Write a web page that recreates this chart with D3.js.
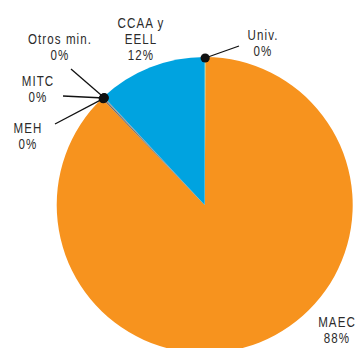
<!DOCTYPE html>
<html>
<head>
<meta charset="utf-8">
<script src="https://cdn.jsdelivr.net/npm/d3@7"></script>
<style>
  html, body { margin: 0; padding: 0; background: #fff; }
  svg { display: block; }
  text { font-family: "Liberation Sans", Arial, sans-serif; font-size: 15px; fill: #2b2b2b; letter-spacing: 1.4px; }
</style>
</head>
<body>
<svg id="chart" width="359" height="348"></svg>
<script>
// Distribución por agente (porcentaje), en orden horario desde las 12
const agents = ["Univ.", "MAEC", "MEH", "MITC", "Otros min.", "CCAA y\nEELL"];
const shares = [0.1, 87.7, 0.15, 0.05, 0.05, 11.95];
const sliceColors = ["#9ccf6a", "#f7931e", "#6d6e71", "#8a8a8a", "#7a7a7a", "#00a3e0"];
// Etiquetas mostradas (valor redondeado)
const shownPct = shares.map(v => Math.round(v) + "%");

// Colocación de las etiquetas: centro del texto, línea base de la primera línea
// y extremo exterior de la línea guía (null = sin guía)
const labelLayout = [
  { x: 263, y: 40, lead: [239, 46] },
  { x: 337, y: 327, lead: null },
  { x: 28, y: 133, lead: [55, 124] },
  { x: 38, y: 86, lead: [63, 96] },
  { x: 60, y: 44, lead: [71, 69] },
  { x: 141, y: 28, lead: null }
];

const svg = d3.select("#chart");
const cx = 204.7, cy = 205, radius = 148;
const g = svg.append("g").attr("transform", `translate(${cx},${cy})`);

const pie = d3.pie().sort(null).value(d => d.value);
const arcs = pie(agents.map((a, i) => ({ name: a, value: shares[i], i })));
const arc = d3.arc().innerRadius(0).outerRadius(radius);

g.selectAll("path.slice")
  .data(arcs)
  .join("path")
  .attr("class", "slice")
  .attr("d", arc)
  .attr("fill", d => sliceColors[d.data.i]);

// Puntos y guías para los sectores pequeños
const small = arcs.filter(d => labelLayout[d.data.i].lead);
const dotPos = d => {
  const a = (d.startAngle + d.endAngle) / 2;
  return [cx + (radius - 1) * Math.sin(a), cy - (radius - 1) * Math.cos(a)];
};

svg.selectAll("line.lead")
  .data(small)
  .join("line")
  .attr("class", "lead")
  .attr("x1", d => dotPos(d)[0])
  .attr("y1", d => dotPos(d)[1])
  .attr("x2", d => labelLayout[d.data.i].lead[0])
  .attr("y2", d => labelLayout[d.data.i].lead[1])
  .attr("stroke", "#111")
  .attr("stroke-width", 1.3);

svg.selectAll("circle.dot")
  .data(small)
  .join("circle")
  .attr("class", "dot")
  .attr("cx", d => dotPos(d)[0])
  .attr("cy", d => dotPos(d)[1])
  .attr("r", 4.6)
  .attr("fill", "#111");

// Textos (tipografía estrechada horizontalmente)
const labels = svg.selectAll("text.lbl")
  .data(arcs)
  .join("text")
  .attr("class", "lbl")
  .attr("text-anchor", "middle")
  .attr("transform", d => `translate(${labelLayout[d.data.i].x},${labelLayout[d.data.i].y}) scale(0.77,1)`);

labels.each(function(d) {
  const lines = d.data.name.split("\n").concat([shownPct[d.data.i]]);
  const t = d3.select(this);
  lines.forEach((s, k) => {
    t.append("tspan")
      .attr("x", 0)
      .attr("dy", k === 0 ? 0 : 16)
      .text(s);
  });
});
</script>
</body>
</html>
